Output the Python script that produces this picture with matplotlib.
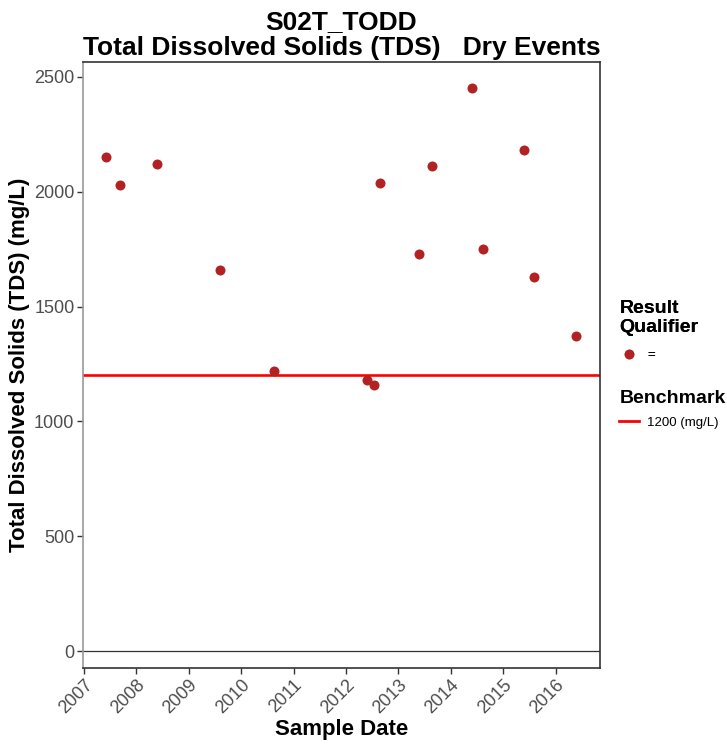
import matplotlib
matplotlib.use("Agg")
import matplotlib.pyplot as plt
import matplotlib.dates as mdates
from matplotlib.lines import Line2D
import pandas as pd

plt.rcParams['font.family'] = ['Liberation Sans', 'DejaVu Sans']

# data
sample_dates = ['2007-06-04', '2007-09-12', '2008-05-22', '2009-08-07', '2010-08-17',
                '2012-05-24', '2012-07-16', '2012-08-27', '2013-05-22', '2013-08-25',
                '2014-05-30', '2014-08-14', '2015-05-25', '2015-08-04', '2016-05-25']
tds = [2150, 2030, 2120, 1660, 1220, 1180, 1160, 2040, 1730, 2110,
       2450, 1750, 2180, 1630, 1370]
benchmark = 1200
y_ticks = [0, 500, 1000, 1500, 2000, 2500]

dates = pd.to_datetime(sample_dates)

fig = plt.figure(figsize=(7.27, 7.46), dpi=100)
ax = fig.add_axes([0.1138, 0.105, 0.7115, 0.812])

ax.axhline(0, color='#333333', lw=0.9, zorder=1)
ax.axhline(benchmark, color='#FF0000', lw=1.9, zorder=2)
ax.plot(dates, tds, 'o', color='#B22222', markersize=7.2, markeredgewidth=0, zorder=3)

ax.set_xlim(pd.Timestamp('2006-12-24'), pd.Timestamp('2016-11-06'))
ax.set_ylim(-72, 2565)
ax.set_yticks(y_ticks)
ax.xaxis.set_major_locator(mdates.YearLocator())
ax.xaxis.set_major_formatter(mdates.DateFormatter('%Y'))

for lbl in ax.get_xticklabels():
    lbl.set_rotation(45)
    lbl.set_ha('right')
    lbl.set_rotation_mode('anchor')
ax.tick_params(axis='both', labelsize=13, labelcolor='#4d4d4d', color='#333333',
               length=4, width=1, pad=2)

for side in ['top', 'right', 'bottom']:
    ax.spines[side].set_color('#333333')
    ax.spines[side].set_linewidth(1.2)
ax.spines['left'].set_color('#999999')
ax.spines['left'].set_linewidth(1.2)

ax.set_xlabel('Sample Date', fontsize=16, fontweight='bold', labelpad=2)
ax.set_ylabel('Total Dissolved Solids (TDS) (mg/L)', fontsize=16, fontweight='bold', labelpad=3)
ax.set_title('S02T_TODD\nTotal Dissolved Solids (TDS)   Dry Events',
             fontsize=19, fontweight='bold', linespacing=1.08, pad=5)

# legends
h1 = [Line2D([], [], marker='o', ls='none', color='#B22222', markersize=7, markeredgewidth=0)]
leg1 = fig.legend(h1, ['='], title='Result\nQualifier', loc='upper left',
                  bbox_to_anchor=(0.852, 0.598), frameon=False, fontsize=9.5,
                  title_fontproperties={'weight': 'bold', 'size': 14},
                  handlelength=1.5, handletextpad=0.6, borderaxespad=0, borderpad=0,
                  labelspacing=0.3)
leg1._legend_box.align = 'left'
leg1._legend_box.sep = 9
h2 = [Line2D([], [], color='#FF0000', lw=2)]
leg2 = fig.legend(h2, ['1200 (mg/L)'], title='Benchmark', loc='upper left',
                  bbox_to_anchor=(0.852, 0.477), frameon=False, fontsize=9.5,
                  title_fontproperties={'weight': 'bold', 'size': 14},
                  handlelength=1.5, handletextpad=0.6, borderaxespad=0, borderpad=0)
leg2._legend_box.align = 'left'
leg2._legend_box.sep = 7
fig.add_artist(leg1)

fig.savefig('out.png', dpi=100)
